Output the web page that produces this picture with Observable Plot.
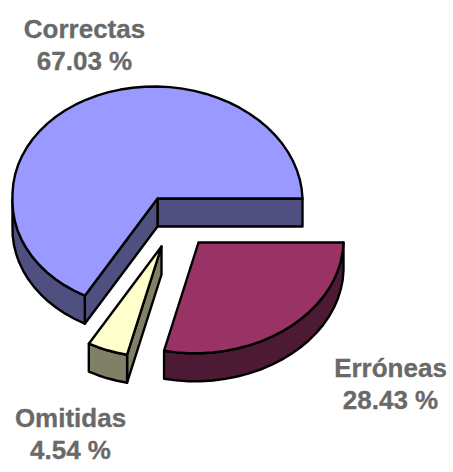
<!DOCTYPE html>
<html>
<head>
<meta charset="utf-8">
<style>html,body{margin:0;padding:0;background:#fff}svg{display:block}</style>
<script src="https://cdn.jsdelivr.net/npm/d3@7"></script>
<script src="https://cdn.jsdelivr.net/npm/@observablehq/plot@0.6"></script>
</head>
<body>
<div id="chart"></div>
<script>
const categories = ["Correctas", "Omitidas", "Erróneas"];
const shares = [67.03, 4.54, 28.43];
const topColors = ["#9999FF", "#FFFFCC", "#993366"];
const sideColors = ["#4F4F80", "#808066", "#4D1A33"];
const centersX = [157, 161, 198];
const centersY = [198, 246, 242];
const labelX = [84, 70, 390];
const labelY = [43, 432, 382];

const RX = 145, RY = 112, RY_FRONT = 110.8, DEPTH = 28, LEAN = 3.5;

function pt(i, deg, d = 0) {
  const t = deg * Math.PI / 180, s = Math.sin(t);
  return [
    centersX[i] + RX * Math.cos(t) - LEAN * Math.abs(s),
    centersY[i] - (s > 0 ? RY : RY_FRONT) * s + d
  ];
}
function arc(i, a, b, d = 0) {
  const n = Math.max(2, Math.ceil(Math.abs(b - a) / 5));
  return d3.range(n + 1).map(k => pt(i, a + (b - a) * k / n, d));
}
const polys = [];
let nextId = 0;
function add(points, fill) {
  const id = nextId++;
  [...points, points[0]].forEach(p => polys.push({id, x: p[0], y: p[1], fill}));
}
let cum = 0;
shares.forEach((s, i) => {
  const a = cum * 3.6, b = (cum + s) * 3.6;
  cum += s;
  const apex = [centersX[i], centersY[i]], apexD = [centersX[i], centersY[i] + DEPTH];
  const cutFace = deg => add([apex, pt(i, deg), pt(i, deg, DEPTH), apexD], sideColors[i]);
  // cut faces that look toward the viewer
  if (i === 0) { cutFace(a); cutFace(b); }
  if (i === 1) cutFace(b);
  // outer rim, lower half only
  const ra = Math.max(a, 180);
  add([...arc(i, ra, b), ...arc(i, b, ra, DEPTH)], sideColors[i]);
  // top surface
  add([apex, ...arc(i, a, b)], topColors[i]);
});

const labels = categories.map((c, i) => ({
  x: labelX[i], y: labelY[i], text: `${c}\n${shares[i].toFixed(2)} %`
}));

const plot = Plot.plot({
  width: 453, height: 472,
  margin: 0,
  x: {domain: [0, 453], range: [0, 453], axis: null},
  y: {domain: [0, 472], range: [0, 472], axis: null},
  marks: [
    Plot.line(polys, {x: "x", y: "y", z: "id", fill: "fill", stroke: "#000", strokeWidth: 2.4, strokeLinejoin: "round", curve: "linear"}),
    Plot.text(labels, {x: "x", y: "y", text: "text", fill: "#696969", stroke: "#696969", strokeWidth: 0.3, fontSize: 26, fontWeight: "bold", fontFamily: "Liberation Sans", lineHeight: 1.23, textAnchor: "middle"})
  ]
});
document.getElementById("chart").appendChild(plot);
</script>
</body>
</html>
